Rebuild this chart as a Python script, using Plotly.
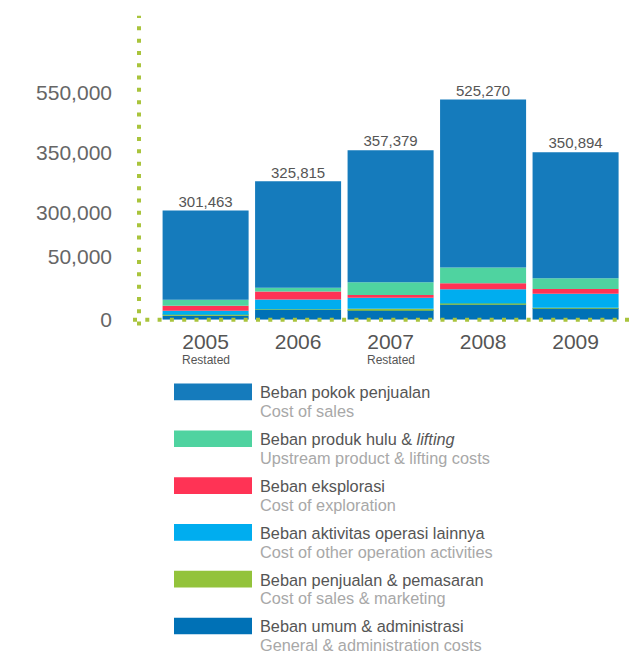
import numpy as np
import plotly.graph_objects as go

# ---- data (Rp million) ----
years = ["2005", "2006", "2007", "2008", "2009"]
year_notes = ["Restated", "", "Restated", "", ""]

general_admin = [3400, 8100, 7800, 12300, 9200]
sales_marketing = [600, 200, 800, 500, 200]
other_operations = [3100, 7800, 8900, 11500, 11200]
exploration = [3900, 6300, 2100, 4700, 3900]
upstream_lifting = [4900, 3100, 10200, 12600, 8600]
totals = [301463, 325815, 357379, 525270, 350894]
cost_of_sales = [t - a - b - c - d - e for t, a, b, c, d, e in
                 zip(totals, general_admin, sales_marketing, other_operations,
                     exploration, upstream_lifting)]

y_ticks = [0, 50000, 300000, 350000, 550000]

# series listed bottom-to-top of the stack
series = [
    ("Beban umum & administrasi", "General & administration costs", general_admin, "#0071b6"),
    ("Beban penjualan & pemasaran", "Cost of sales & marketing", sales_marketing, "#93c33b"),
    ("Beban aktivitas operasi lainnya", "Cost of other operation activities", other_operations, "#00adef"),
    ("Beban eksplorasi", "Cost of exploration", exploration, "#ff3355"),
    ("Beban produk hulu & <i>lifting</i>", "Upstream product & lifting costs", upstream_lifting, "#4fd3a0"),
    ("Beban pokok penjualan", "Cost of sales", cost_of_sales, "#157bbc"),
]

# Compressed value axis: piecewise-linear between the labelled ticks
# (axis units are pixels above the baseline).
TICK_HEIGHTS = [0, 63.7, 109.3, 170.0, 231.3]


def scale(v):
    v = np.asarray(v, dtype=float)
    top_slope = (TICK_HEIGHTS[-1] - TICK_HEIGHTS[-2]) / (y_ticks[-1] - y_ticks[-2])
    out = np.interp(v, y_ticks, TICK_HEIGHTS)
    over = v > y_ticks[-1]
    out[over] = TICK_HEIGHTS[-1] + (v[over] - y_ticks[-1]) * top_slope
    return out


W, H = 636, 667
FONT = "Liberation Sans, Arial, sans-serif"
DOT_GREEN = "#a9c43c"


def fx(px):
    return px / W


def fy(px):
    return 1 - px / H


fig = go.Figure()
running = np.zeros(len(years))
for name_id, name_en, values, color in series:
    lower = scale(running)
    running = running + np.asarray(values, dtype=float)
    upper = scale(running)
    fig.add_trace(go.Bar(
        x=years, y=upper - lower, base=lower, name=name_id,
        customdata=values,
        hovertemplate="%{x}: %{customdata:,}<extra>%{fullData.name}</extra>",
        marker=dict(color=color, line=dict(width=0)),
        showlegend=False,
    ))

# totals above each bar
fig.add_trace(go.Scatter(
    x=years, y=scale(totals), mode="text",
    text=[f"{v:,}" for v in totals], textposition="top center",
    textfont=dict(family=FONT, size=15, color="#555555"),
    showlegend=False, hoverinfo="skip",
))

annotations = []
for i, note in enumerate(year_notes):
    if note:
        annotations.append(dict(
            x=i, xref="x", y=fy(366), yref="paper", text=note,
            showarrow=False, xanchor="center", yanchor="middle",
            font=dict(family=FONT, size=12, color="#555555"),
        ))

shapes = [
    # dotted axes
    dict(type="line", xref="paper", yref="paper",
         x0=fx(139), x1=fx(139), y0=fy(331), y1=fy(16),
         line=dict(color=DOT_GREEN, width=4, dash="4px,8.3px"), layer="above"),
    dict(type="line", xref="paper", yref="paper",
         x0=fx(133), x1=fx(636), y0=fy(325), y1=fy(325),
         line=dict(color=DOT_GREEN, width=4, dash="4px,8.3px"), layer="above"),
]

# legend: swatch + bilingual label, listed top-to-bottom
row_top = 390
row_step = 47.6
for i, (name_id, name_en, _, color) in enumerate(reversed(series)):
    top = row_top + i * row_step
    shapes.append(dict(
        type="rect", xref="paper", yref="paper",
        x0=fx(174), x1=fx(252), y0=fy(top + 17), y1=fy(top),
        fillcolor=color, line=dict(width=0),
    ))
    for text, color_txt, offset in ((name_id, "#555555", 9.0),
                                     (name_en, "#a8a8a8", 28.0)):
        annotations.append(dict(
            x=fx(258), y=fy(top + offset), xref="paper", yref="paper",
            xanchor="left", yanchor="middle", align="left", showarrow=False,
            text=text, font=dict(family=FONT, size=16.3, color=color_txt),
        ))

fig.update_layout(
    width=W, height=H,
    margin=dict(l=0, r=0, t=0, b=0),
    paper_bgcolor="white", plot_bgcolor="white",
    barmode="overlay", bargap=0.07,
    xaxis=dict(
        domain=[fx(139), fx(632)], range=[-0.72, 4.61],
        showgrid=False, zeroline=False, showline=False, ticks="",
        tickfont=dict(family=FONT, size=21, color="#555555"),
        ticklabelstandoff=7,
    ),
    yaxis=dict(
        domain=[fy(325), fy(18)], range=[0, 307],
        showgrid=False, zeroline=False, showline=False, ticks="",
        tickvals=scale(y_ticks), ticktext=[f"{v:,}" for v in y_ticks],
        tickfont=dict(family=FONT, size=21, color="#666666"),
        ticklabelstandoff=26,
    ),
    shapes=shapes,
    annotations=annotations,
)

fig.write_html("out.html")
